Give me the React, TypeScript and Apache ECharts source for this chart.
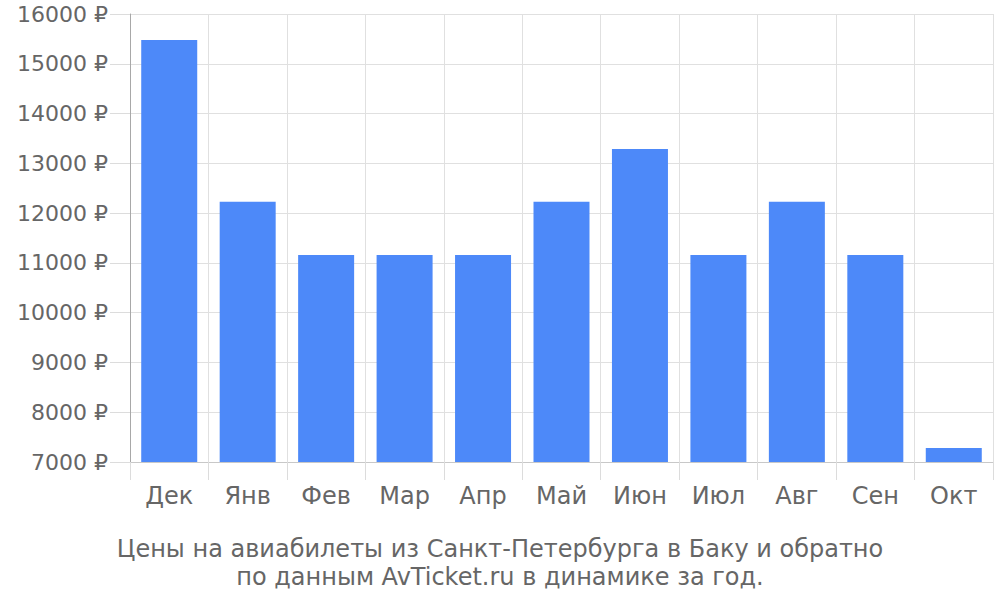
import React, { useEffect, useRef } from "react";
import * as echarts from "echarts";

const categories = ["Дек", "Янв", "Фев", "Мар", "Апр", "Май", "Июн", "Июл", "Авг", "Сен", "Окт"];
const prices = [15480, 12230, 11160, 11160, 11160, 12230, 13290, 11160, 12230, 11160, 7280];
const titleLines = [
  "Цены на авиабилеты из Санкт-Петербурга в Баку и обратно",
  "по данным AvTicket.ru в динамике за год.",
];
const yMin = 7000;
const yMax = 16000;
const yStep = 1000;

export default function App() {
  const ref = useRef<HTMLDivElement>(null);
  useEffect(() => {
    if (!ref.current) return;
    const chart = echarts.init(ref.current, null, { renderer: "svg" });
    const font = "DejaVu Sans";
    chart.setOption({
      animation: false,
      textStyle: { fontFamily: font },
      title: {
        text: titleLines.join("\n"),
        left: "center",
        top: 530,
        textStyle: { fontFamily: font, fontSize: 24, fontWeight: "normal", color: "#666", lineHeight: 28 },
      },
      grid: { left: 130, right: 7, top: 14, bottom: 138, containLabel: false },
      xAxis: {
        type: "category",
        data: categories,
        boundaryGap: true,
        axisLine: { show: true, lineStyle: { color: "#c8c8c8", width: 1 } },
        axisTick: { show: true, length: 18, interval: 0, lineStyle: { color: "#dcdcdc" } },
        axisLabel: { fontSize: 24, color: "#666", margin: 22, interval: 0, fontFamily: font },
        splitLine: { show: true, interval: 0, lineStyle: { color: "#e0e0e0" } },
      },
      yAxis: {
        type: "value",
        min: yMin,
        max: yMax,
        interval: yStep,
        axisLine: { show: true, lineStyle: { color: "#a8a8a8", width: 1 } },
        axisTick: { show: true, length: 20, lineStyle: { color: "#dcdcdc" } },
        axisLabel: {
          fontSize: 22,
          color: "#666",
          margin: 22,
          fontFamily: font,
          formatter: (v: number) => `${v} ₽`,
        },
        splitLine: { show: true, lineStyle: { color: "#e0e0e0" } },
      },
      series: [
        {
          type: "bar",
          data: prices,
          barWidth: 56,
          itemStyle: { color: "#4d89f9" },
        },
      ],
    });
    return () => chart.dispose();
  }, []);
  return <div ref={ref} style={{ width: 1000, height: 600, position: "absolute", left: 0, top: 0 }} />;
}
